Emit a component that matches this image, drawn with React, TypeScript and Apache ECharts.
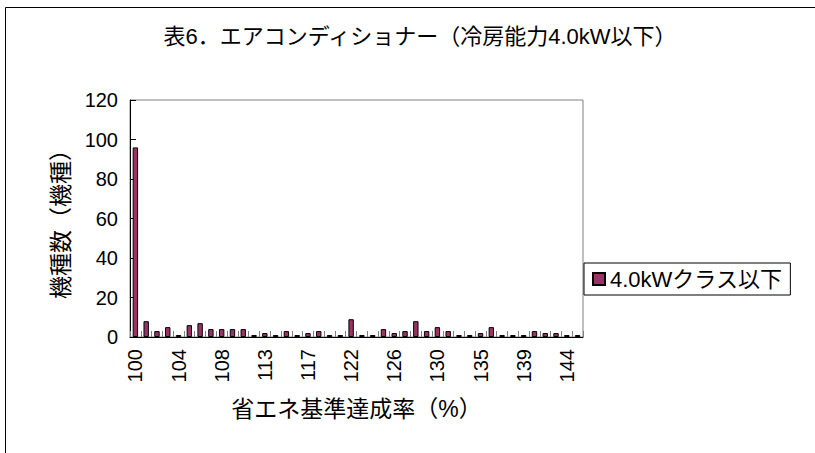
import React, { useEffect, useRef } from "react";
import * as echarts from "echarts";

const categories = [
  "100", "101", "102", "103", "104", "105", "106", "107", "108", "109",
  "110", "112", "113", "114", "115", "116", "117", "118", "119", "121",
  "122", "123", "124", "125", "126", "127", "128", "129", "130", "131",
  "132", "134", "135", "136", "137", "138", "139", "140", "141", "143",
  "144", "145",
];
const counts = [
  96, 8, 3, 5, 1, 6, 7, 4, 4, 4,
  4, 1, 2, 1, 3, 1, 2, 3, 1, 1,
  9, 1, 1, 4, 2, 3, 8, 3, 5, 3,
  1, 1, 2, 5, 1, 1, 1, 3, 2, 2,
  1, 1,
];
const seriesName = "4.0kWクラス以下";
const titleText = "表6．エアコンディショナー（冷房能力4.0kW以下）";
const yName = "機種数（機種）";
const xName = "省エネ基準達成率（%）";

const FONT = "'Liberation Sans', 'Noto Sans CJK JP', sans-serif";

export default function App() {
  const ref = useRef<HTMLDivElement>(null);
  useEffect(() => {
    document.body.style.margin = "0";
    const chart = echarts.init(ref.current!, null, { renderer: "svg" });
    chart.setOption({
      animation: false,
      backgroundColor: "#ffffff",
      textStyle: { fontFamily: FONT },
      title: {
        text: titleText,
        left: 415,
        textAlign: "center",
        top: 20,
        textStyle: { fontSize: 22, fontWeight: "normal", color: "#000", fontFamily: FONT },
      },
      graphic: [
        {
          type: "rect",
          silent: true,
          z: -10,
          shape: { x: 5.5, y: 7.5, width: 900, height: 500 },
          style: { fill: "none", stroke: "#000", lineWidth: 1 },
        },
      ],
      grid: {
        left: 130,
        right: 232,
        top: 100,
        bottom: 116,
        show: true,
        borderColor: "#808080",
        borderWidth: 1,
        backgroundColor: "#ffffff",
      },
      legend: {
        orient: "vertical",
        left: 584,
        top: 263,
        padding: [5, 8, 5, 8],
        borderColor: "#000",
        borderWidth: 1,
        backgroundColor: "#ffffff",
        itemWidth: 12,
        itemHeight: 12,
        itemGap: 4,
        icon: "rect",
        textStyle: { fontSize: 22, color: "#000", fontFamily: FONT },
        data: [seriesName],
      },
      xAxis: {
        type: "category",
        data: categories,
        name: xName,
        nameLocation: "middle",
        nameGap: 60,
        nameTextStyle: { fontSize: 23, color: "#000", fontFamily: FONT },
        axisLine: { lineStyle: { color: "#000", width: 1 } },
        axisTick: {
          show: true,
          inside: true,
          length: 6,
          interval: 0,
          alignWithLabel: false,
          lineStyle: { color: "#808080" },
        },
        axisLabel: {
          interval: 3,
          rotate: 90,
          fontSize: 20,
          color: "#000",
          margin: 12,
          fontFamily: FONT,
        },
        splitLine: { show: false },
      },
      yAxis: {
        type: "value",
        min: 0,
        max: 120,
        interval: 20,
        name: yName,
        nameLocation: "middle",
        nameRotate: 90,
        nameGap: 58,
        nameTextStyle: { fontSize: 23, color: "#000", fontFamily: FONT },
        axisLine: { show: true, lineStyle: { color: "#000", width: 1 } },
        axisTick: { show: true, inside: true, length: 6, lineStyle: { color: "#000" } },
        axisLabel: { fontSize: 20, color: "#000", margin: 12, fontFamily: FONT },
        splitLine: { show: false },
      },
      series: [
        {
          name: seriesName,
          type: "bar",
          data: counts,
          barCategoryGap: "50%",
          itemStyle: { color: "#993366", borderColor: "#000", borderWidth: 1 },
        },
      ],
    });
    return () => chart.dispose();
  }, []);
  return <div ref={ref} style={{ width: 815, height: 453 }} />;
}
